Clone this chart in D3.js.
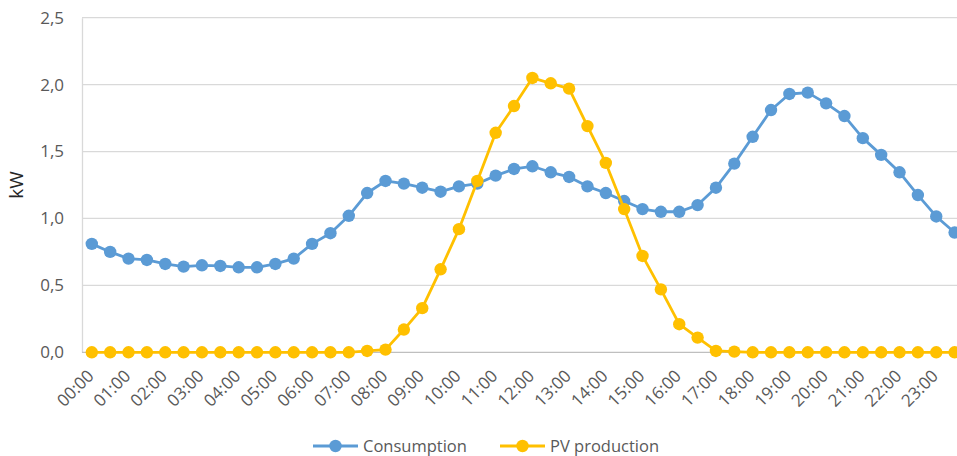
<!DOCTYPE html>
<html>
<head>
<meta charset="utf-8">
<script src="https://cdn.jsdelivr.net/npm/d3@7"></script>
<style>
  body { margin: 0; background: #fff; }
  svg { display: block; font-family: "Open Sans", sans-serif; }
</style>
</head>
<body>
<div id="target"></div>
<script>
// half-hour slots, one label per hour
const hourLabels = ["00:00","01:00","02:00","03:00","04:00","05:00","06:00","07:00",
  "08:00","09:00","10:00","11:00","12:00","13:00","14:00","15:00",
  "16:00","17:00","18:00","19:00","20:00","21:00","22:00","23:00"]

const consumption = [0.81, 0.75, 0.70, 0.69, 0.66, 0.64, 0.65, 0.645, 0.635, 0.635, 0.66, 0.70,
  0.81, 0.89, 1.02, 1.19, 1.28, 1.26, 1.23, 1.20, 1.24, 1.26, 1.32, 1.37,
  1.39, 1.345, 1.31, 1.24, 1.19, 1.13, 1.07, 1.05, 1.05, 1.10, 1.23, 1.41,
  1.61, 1.81, 1.93, 1.94, 1.86, 1.765, 1.60, 1.475, 1.345, 1.175, 1.015, 0.895]

const pvProduction = [0, 0, 0, 0, 0, 0, 0, 0, 0, 0, 0, 0,
  0, 0, 0, 0.01, 0.02, 0.17, 0.33, 0.62, 0.92, 1.28, 1.64, 1.84,
  2.05, 2.01, 1.97, 1.69, 1.415, 1.07, 0.72, 0.47, 0.21, 0.11, 0.01, 0.005,
  0, 0, 0, 0, 0, 0, 0, 0, 0, 0, 0, 0]

const yTicks = [0, 0.5, 1.0, 1.5, 2.0, 2.5]

const series = [
  { name: "Consumption", values: consumption, color: "#5B9BD5" },
  { name: "PV production", values: pvProduction, color: "#FFC000" }
]

const width = 957
const height = 456
const plotLeft = 82
const plotTop = 17.7
const plotBottom = 352.3

const svg = d3.select("#target").append("svg")
    .attr("width", width)
    .attr("height", height)

const x = d3.scalePoint()
    .domain(d3.range(consumption.length))
    .range([91.8, 954.6])

const y = d3.scaleLinear()
    .domain([0, 2.5])
    .range([plotBottom, plotTop])

const fmt = v => d3.format(".1f")(v).replace(".", ",")

//Gridlines
svg.append("g")
    .selectAll("line")
    .data(yTicks.filter(d => d > 0))
    .enter()
    .append("line")
    .attr("x1", plotLeft)
    .attr("x2", width)
    .attr("y1", d => y(d))
    .attr("y2", d => y(d))
    .attr("stroke", "#D9D9D9")
    .attr("stroke-width", 1.3)

//Y axis
const yAxis = svg.append("g")
    .attr("transform", `translate(${plotLeft},0)`)
    .call(d3.axisLeft(y).tickValues(yTicks).tickFormat(fmt).tickSize(0).tickPadding(18))
yAxis.select(".domain").attr("stroke", "#D9D9D9").attr("stroke-width", 1.3)
yAxis.selectAll("text")
    .attr("fill", "#595959")
    .attr("font-size", 17)
    .attr("font-family", "Open Sans")

//X axis line
svg.append("line")
    .attr("x1", plotLeft)
    .attr("x2", width)
    .attr("y1", plotBottom)
    .attr("y2", plotBottom)
    .attr("stroke", "#BFBFBF")
    .attr("stroke-width", 1.3)

//X labels, rotated
svg.append("g")
    .selectAll("text")
    .data(hourLabels)
    .enter()
    .append("text")
    .attr("transform", (d, i) => `translate(${x(i * 2) + 3},377) rotate(-45)`)
    .attr("text-anchor", "end")
    .attr("fill", "#595959")
    .attr("font-size", 17)
    .text(d => d)

//kW label
svg.append("text")
    .attr("transform", "translate(23,185) rotate(-90)")
    .attr("text-anchor", "middle")
    .attr("fill", "#262626")
    .attr("font-size", 19)
    .text("kW")

//Lines & markers
const line = d3.line()
    .x((d, i) => x(i))
    .y(d => y(d))

series.forEach(s => {
    const g = svg.append("g")
    g.append("path")
        .attr("d", line(s.values))
        .attr("fill", "none")
        .attr("stroke", s.color)
        .attr("stroke-width", 2.8)
        .attr("stroke-linejoin", "round")
    g.selectAll("circle")
        .data(s.values)
        .enter()
        .append("circle")
        .attr("cx", (d, i) => x(i))
        .attr("cy", d => y(d))
        .attr("r", 6.2)
        .attr("fill", s.color)
})

//Legend
const legendItems = [
    { s: series[0], x0: 313 },
    { s: series[1], x0: 500 }
]
legendItems.forEach(({ s, x0 }) => {
    const lg = svg.append("g").attr("transform", `translate(${x0},446)`)
    lg.append("line")
        .attr("x1", 0).attr("x2", 45)
        .attr("stroke", s.color)
        .attr("stroke-width", 2.8)
    lg.append("circle")
        .attr("cx", 22.5)
        .attr("r", 6.2)
        .attr("fill", s.color)
    lg.append("text")
        .attr("x", 50)
        .attr("y", 5.5)
        .attr("fill", "#595959")
        .attr("font-size", 16.5)
        .text(s.name)
})
</script>
</body>
</html>
